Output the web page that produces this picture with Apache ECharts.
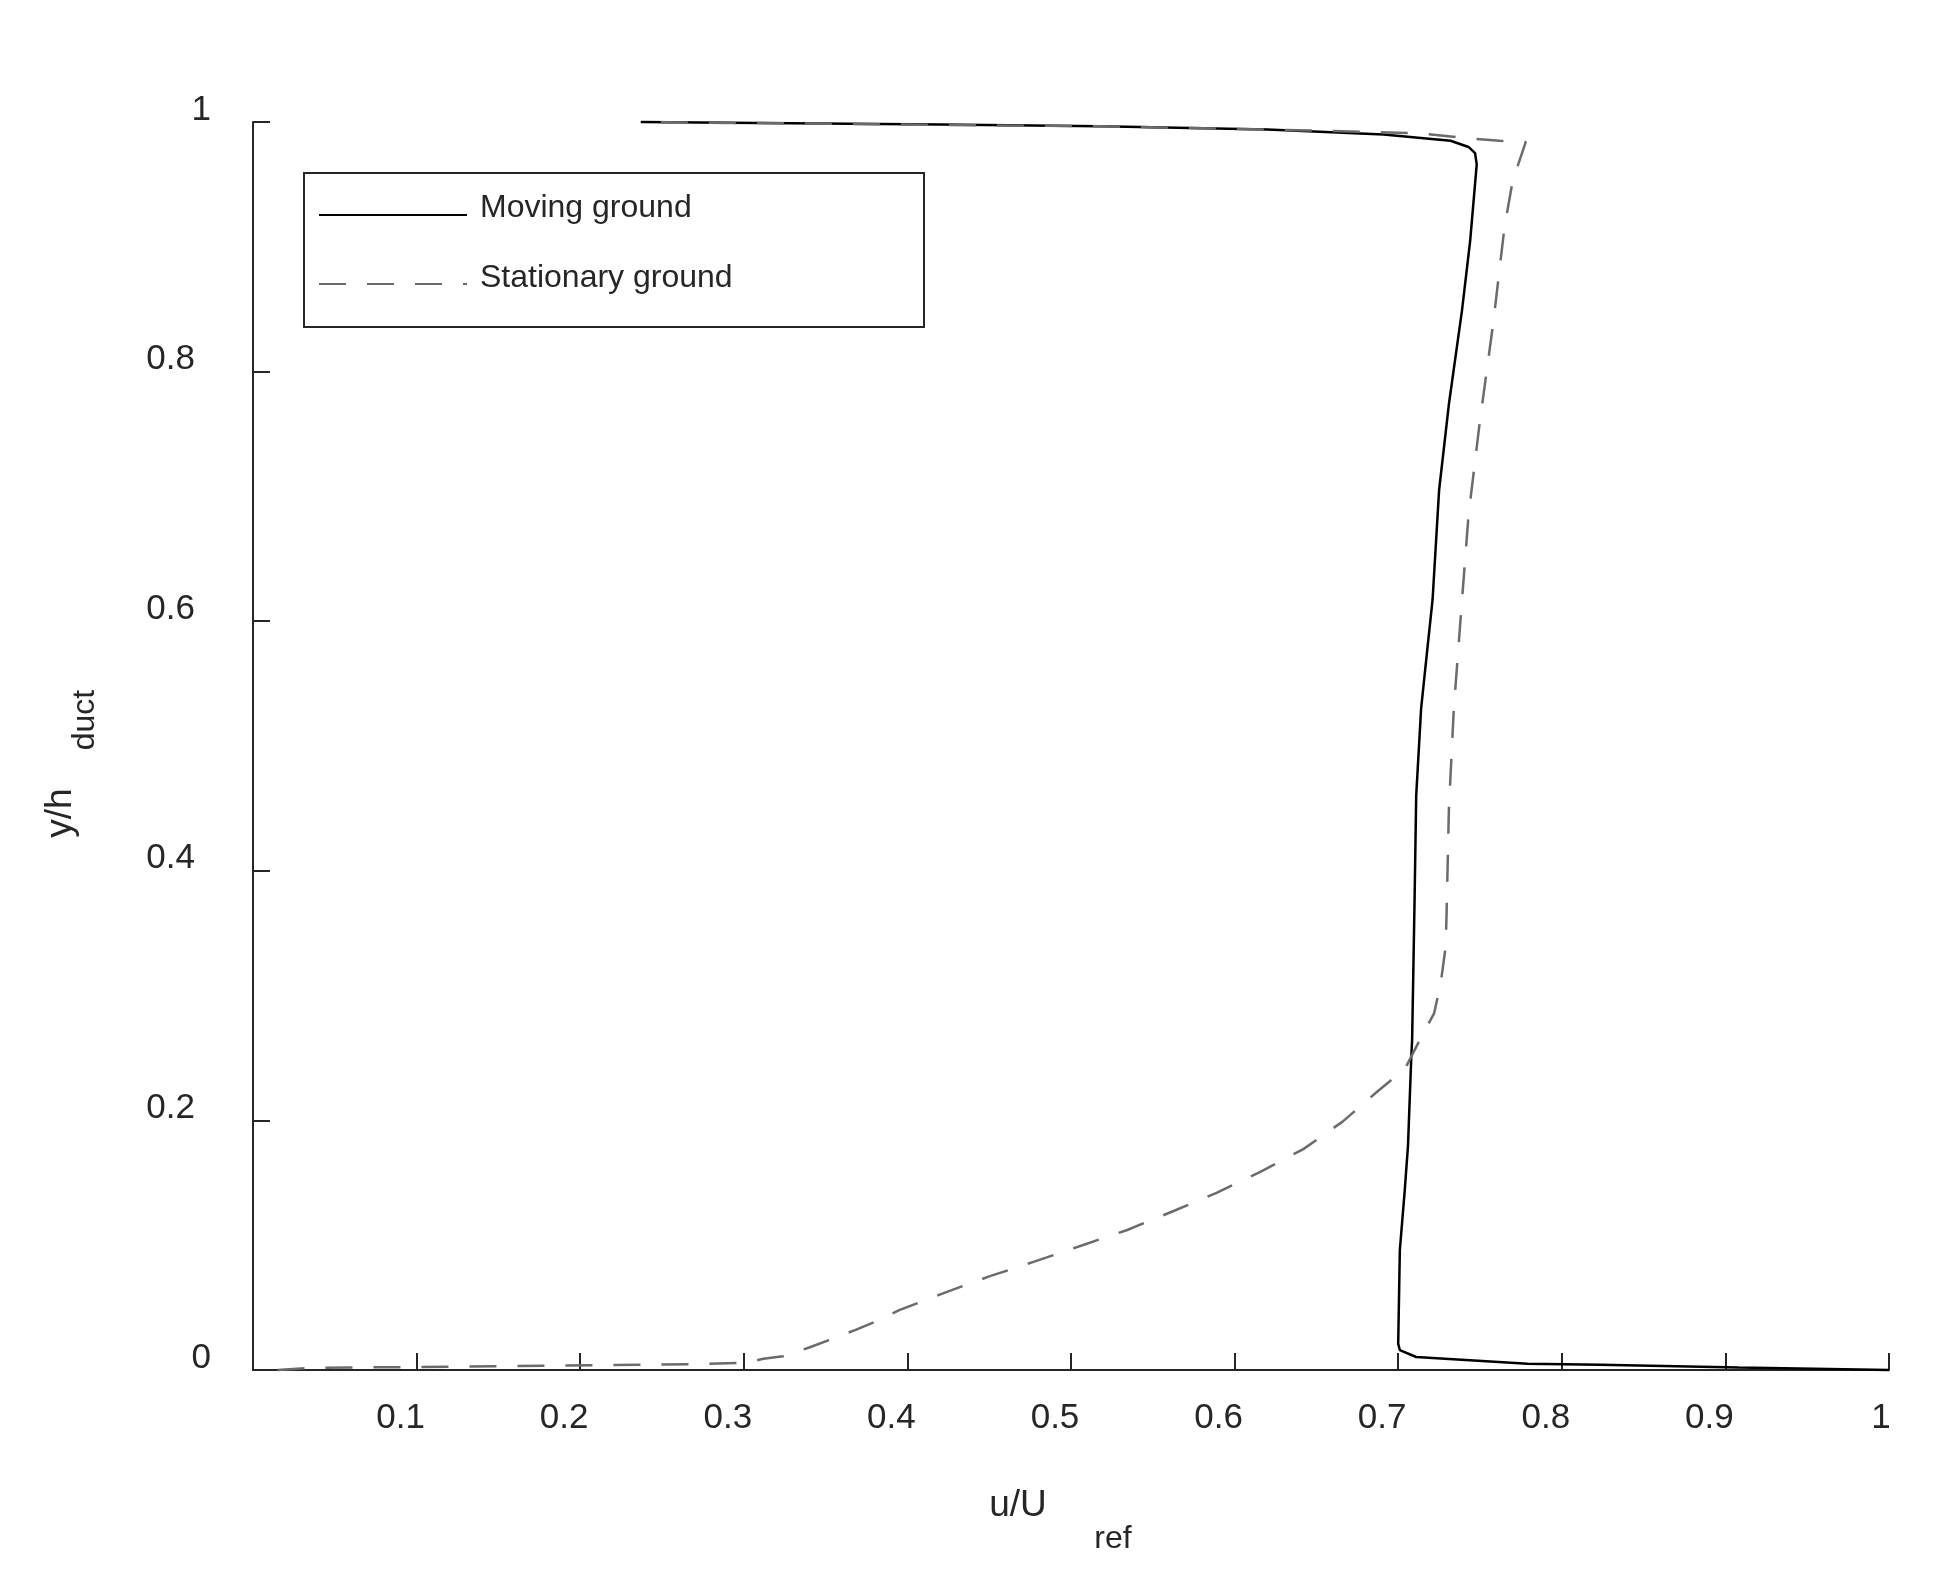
<!DOCTYPE html>
<html><head><meta charset="utf-8">
<script src="https://cdn.jsdelivr.net/npm/echarts@6/dist/echarts.min.js"></script>
<style>html,body{margin:0;padding:0;background:#fff}#c{width:1947px;height:1595px}</style>
</head><body><div id="c"></div>
<script>
const seriesNames = ['Moving ground', 'Stationary ground'];

// [u/Uref, y/hduct]
const movingGround = [
  [0.237, 1.000], [0.420, 0.998], [0.518, 0.9965], [0.620, 0.994], [0.691, 0.990],
  [0.732, 0.985], [0.743, 0.980], [0.747, 0.975], [0.748, 0.966], [0.744, 0.905],
  [0.739, 0.849], [0.731, 0.774], [0.725, 0.705], [0.721, 0.617], [0.718, 0.580],
  [0.714, 0.530], [0.711, 0.460], [0.710, 0.376], [0.7085, 0.264], [0.708, 0.251],
  [0.706, 0.180], [0.704, 0.144], [0.701, 0.096], [0.700, 0.021], [0.701, 0.016],
  [0.711, 0.0104], [0.779, 0.005], [0.8235, 0.0042], [0.908, 0.002], [1.000, 0.000]
];

const stationaryGround = [
  [0.015, 0.000], [0.037, 0.0018], [0.096, 0.0023], [0.156, 0.0031], [0.214, 0.0039],
  [0.273, 0.0047], [0.301, 0.0058], [0.312, 0.009], [0.324, 0.011], [0.340, 0.018],
  [0.352, 0.024], [0.368, 0.032], [0.379, 0.038], [0.395, 0.048], [0.423, 0.062],
  [0.450, 0.075], [0.478, 0.087], [0.507, 0.100], [0.534, 0.112], [0.562, 0.127],
  [0.589, 0.142], [0.616, 0.159], [0.642, 0.177], [0.666, 0.199], [0.688, 0.224],
  [0.704, 0.241], [0.713, 0.264], [0.722, 0.286], [0.726, 0.310], [0.729, 0.339],
  [0.7295, 0.362], [0.731, 0.450], [0.734, 0.530], [0.739, 0.617], [0.743, 0.685],
  [0.750, 0.761], [0.758, 0.838], [0.765, 0.916], [0.770, 0.953], [0.778, 0.984],
  [0.762, 0.985], [0.742, 0.987], [0.713, 0.991], [0.620, 0.994], [0.518, 0.9965],
  [0.237, 1.000]
];

const xTickLabels = ['0', '0.1', '0.2', '0.3', '0.4', '0.5', '0.6', '0.7', '0.8', '0.9', '1'];
const yTickLabels = ['0', '0.2', '0.4', '0.6', '0.8', '1'];

const FONT = '"Liberation Sans", Arial, Helvetica, sans-serif';
const AX = '#262626';

const legendCommon = {
  left: 318, orient: 'vertical', padding: 0,
  itemWidth: 148, itemHeight: 60, selectedMode: false,
  itemStyle: {color: 'rgba(0,0,0,0)', borderWidth: 0, opacity: 0},
  formatter: function () { return ''; },
  textStyle: {fontSize: 32, fontFamily: FONT, color: AX}
};

const chart = echarts.init(document.getElementById('c'), null, {renderer: 'canvas'});
chart.setOption({
  animation: false,
  backgroundColor: '#fff',
  grid: {left: 253, right: 58, top: 122, bottom: 225, containLabel: false},
  xAxis: {
    type: 'value', min: 0, max: 1, interval: 0.1,
    axisLine: {show: true, onZero: false, lineStyle: {color: AX, width: 2}},
    axisTick: {show: true, inside: true, length: 17, lineStyle: {color: AX, width: 2}},
    splitLine: {show: false},
    axisLabel: {
      showMinLabel: false, fontSize: 35, fontFamily: FONT, color: AX, margin: 31, lineHeight: 35,
      formatter: function (v) {
        const s = xTickLabels[Math.round(v * 10)];
        return s === '1' ? '{i|' + s + '}' : '{d|' + s + '}';
      },
      rich: {i: {padding: [0, 16, 0, 0]}, d: {padding: [0, 32, 0, 0]}}
    }
  },
  yAxis: {
    type: 'value', min: 0, max: 1, interval: 0.2,
    axisLine: {show: true, onZero: false, lineStyle: {color: AX, width: 2}},
    axisTick: {show: true, inside: true, length: 17, lineStyle: {color: AX, width: 2}},
    splitLine: {show: false},
    axisLabel: {
      fontSize: 35, fontFamily: FONT, color: AX, margin: 42, lineHeight: 35,
      padding: [0, 0, 24, 0],
      formatter: function (v) {
        const s = yTickLabels[Math.round(v * 5)];
        return (s === '0' || s === '1') ? '{i|' + s + '}' : '{d|' + s + '}';
      },
      rich: {i: {padding: [0, 0, 0, 0]}, d: {padding: [0, 16, 0, 0]}}
    }
  },
  legend: [
    Object.assign({data: [seriesNames[0]], top: 185}, legendCommon),
    Object.assign({data: [seriesNames[1]], top: 254}, legendCommon)
  ],
  graphic: [
    {type: 'rect', shape: {x: 304, y: 173, width: 620, height: 154},
      style: {fill: 'none', stroke: AX, lineWidth: 2}, z: 1},
    {type: 'text', x: 480, y: 208,
      style: {text: seriesNames[0], fontSize: 32, fontFamily: FONT, fill: AX, align: 'left', verticalAlign: 'middle'}},
    {type: 'text', x: 480, y: 278,
      style: {text: seriesNames[1], fontSize: 32, fontFamily: FONT, fill: AX, align: 'left', verticalAlign: 'middle'}},
    {type: 'text', x: 1018, y: 1506,
      style: {text: 'u/U', fontSize: 37, fontFamily: FONT, fill: AX, align: 'center', verticalAlign: 'middle'}},
    {type: 'text', x: 1113, y: 1539,
      style: {text: 'ref', fontSize: 32, fontFamily: FONT, fill: AX, align: 'center', verticalAlign: 'middle'}},
    {type: 'text', x: 61, y: 813, rotation: Math.PI / 2,
      style: {text: 'y/h', fontSize: 37, fontFamily: FONT, fill: AX, align: 'center', verticalAlign: 'middle'}},
    {type: 'text', x: 85, y: 720, rotation: Math.PI / 2,
      style: {text: 'duct', fontSize: 32, fontFamily: FONT, fill: AX, align: 'center', verticalAlign: 'middle'}}
  ],
  series: [
    {
      name: seriesNames[0], type: 'line', data: movingGround, symbol: 'none', showSymbol: false,
      clip: false, smooth: false,
      lineStyle: {color: '#000000', width: 2.5}, itemStyle: {color: '#000000'}
    },
    {
      name: seriesNames[1], type: 'line', data: stationaryGround, symbol: 'none', showSymbol: false,
      clip: false, smooth: false,
      lineStyle: {color: '#6b6b6b', width: 2.5, type: [27, 21]}, itemStyle: {color: '#6b6b6b'}
    }
  ]
});
</script>
</body></html>
